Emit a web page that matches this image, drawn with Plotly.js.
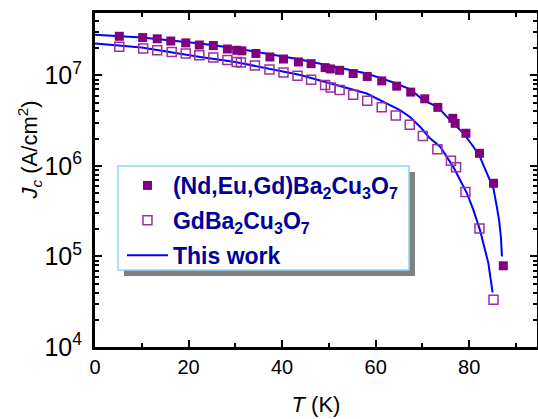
<!DOCTYPE html>
<html>
<head>
<meta charset="utf-8">
<script src="https://cdn.plot.ly/plotly-3.0.1.min.js"></script>
<style>
html,body{margin:0;padding:0;background:#fff;}
#chart{width:538px;height:419px;}
</style>
</head>
<body>
<div id="chart"></div>
<script>
// (Nd,Eu,Gd)Ba2Cu3O7 - filled squares
var T_neg = [5.2,10.2,13.3,16.2,19.4,22.3,25.3,28.3,30.3,31.4,34.4,37.4,40.3,43.5,46.2,49.2,50.3,52.3,55.2,58.2,61.3,64.5,67.5,70.5,73.3,76.5,77.0,79.3,82.2,85.2,87.3];
var Jc_neg = [2.71e7,2.62e7,2.54e7,2.40e7,2.29e7,2.17e7,2.14e7,1.96e7,1.90e7,1.87e7,1.75e7,1.60e7,1.52e7,1.41e7,1.35e7,1.22e7,1.18e7,1.14e7,1.05e7,9.75e6,8.71e6,7.62e6,6.55e6,5.52e6,4.44e6,3.36e6,2.96e6,2.30e6,1.38e6,6.44e5,7.89e4];
// GdBa2Cu3O7 - open squares
var T_gd = [5.2,10.3,13.3,16.4,19.4,22.3,25.3,28.3,30.3,31.2,34.2,37.3,40.3,43.3,46.2,49.2,50.4,52.3,55.2,58.2,61.3,64.3,67.3,70.1,73.2,76.1,77.2,79.2,82.2,85.2];
var Jc_gd = [2.07e7,1.99e7,1.90e7,1.82e7,1.75e7,1.67e7,1.58e7,1.48e7,1.41e7,1.39e7,1.29e7,1.16e7,1.08e7,9.91e6,8.95e6,7.82e6,7.38e6,6.89e6,6.11e6,5.25e6,4.44e6,3.62e6,2.85e6,2.14e6,1.53e6,1.14e6,9.68e5,5.16e5,2.04e5,3.33e4];
// This work - model curves
var T_fit1 = [0,10,22.5,30,43.9,52,58.1,64,67.4,70.2,73.3,75.9,78.8,80.9,82.3,83.8,85.2,85.9,86.4,86.8,87.0];
var Jc_fit1 = [2.82e7,2.63e7,2.25e7,2.0e7,1.50e7,1.23e7,1.05e7,8.3e6,7.01e6,5.35e6,4.47e6,3.21e6,2.29e6,1.63e6,1.26e6,8.3e5,5.6e5,3.55e5,2.5e5,1.6e5,1.0e5];
var T_fit2 = [0,10,22.5,30,43.9,52,58.1,65.2,67.4,69.5,71.5,73.8,76.6,78.0,79.5,80.9,82.3,84.1,85.0];
var Jc_fit2 = [2.25e7,2.04e7,1.60e7,1.41e7,1.01e7,7.76e6,6.31e6,4.14e6,3.45e6,2.71e6,2.05e6,1.63e6,9.77e5,7.1e5,5.01e5,3.27e5,1.97e5,8.45e4,4.01e4];

var names = ['(Nd,Eu,Gd)Ba<sub>2</sub>Cu<sub>3</sub>O<sub>7</sub>', 'GdBa<sub>2</sub>Cu<sub>3</sub>O<sub>7</sub>', 'This work'];

var traces = [
  {x:T_fit1, y:Jc_fit1, mode:'lines', line:{color:'#0000ff', width:2}, name:names[2], showlegend:false},
  {x:T_fit2, y:Jc_fit2, mode:'lines', line:{color:'#0000ff', width:2}, name:names[2], showlegend:false},
  {x:T_neg, y:Jc_neg, mode:'markers', name:names[0], legendgroup:'a', marker:{symbol:'square', size:9, color:'#800080'}},
  {x:T_gd, y:Jc_gd, mode:'markers', name:names[1], legendgroup:'b', marker:{symbol:'square-open', size:9, color:'#993399', line:{width:1.5}}},
  {x:[null], y:[null], mode:'lines', line:{color:'#0000ff', width:2}, name:names[2], legendgroup:'c'}
];

var layout = {
  width:538, height:419,
  margin:{l:95, r:1, t:13, b:72},
  paper_bgcolor:'#fff', plot_bgcolor:'#fff',
  font:{family:'Liberation Sans, Arial, sans-serif', color:'#000', size:20},
  showlegend:true,
  xaxis:{
    range:[0,94.5], dtick:20, tick0:0,
    showline:true, linecolor:'#000', linewidth:3, mirror:'allticks',
    ticks:'inside', ticklen:7, tickwidth:2, tickcolor:'#000',
    minor:{ticks:'inside', dtick:10, ticklen:4, tickwidth:2, tickcolor:'#000'},
    showgrid:false, zeroline:false,
    tickfont:{size:20},
    title:{text:'<i>T</i> (K)', font:{size:22}, standoff:20}
  },
  yaxis:{
    type:'log', range:[4,7.69], dtick:1,
    exponentformat:'power', showexponent:'all',
    showline:true, linecolor:'#000', linewidth:3, mirror:'allticks',
    ticks:'inside', ticklen:7, tickwidth:2, tickcolor:'#000',
    minor:{ticks:'inside', dtick:'D1', ticklen:4, tickwidth:2, tickcolor:'#000'},
    showgrid:false, zeroline:false,
    tickfont:{size:20}, ticklabelstandoff:6,
    title:{text:''}
  },
  annotations:[
    {xref:'paper', yref:'paper', x:-0.148, y:0.59, xanchor:'center', yanchor:'middle',
     text:'<i>J</i><sub><i>c</i></sub> (A/cm<sup>2</sup>)', textangle:-90, showarrow:false, font:{size:22}}
  ],
  shapes:[
    {type:'rect', xref:'paper', yref:'paper', layer:'above',
     x0:0.0656, x1:0.724, y0:0.2126, y1:0.524, fillcolor:'#808080', line:{width:0}},
    {type:'rect', xref:'paper', yref:'paper', layer:'above',
     x0:0.052, x1:0.7104, y0:0.2305, y1:0.5419, fillcolor:'#ffffff', line:{color:'#88d8f8', width:1.5}}
  ],
  legend:{
    x:0.061, y:0.548, xanchor:'left', yanchor:'top',
    bgcolor:'rgba(0,0,0,0)', borderwidth:0,
    font:{family:'Liberation Sans, Arial, sans-serif', size:23, color:'#000099', weight:'bold'},
    itemwidth:41, tracegroupgap:2
  }
};

Plotly.newPlot('chart', traces, layout, {displayModeBar:false, staticPlot:true});
</script>
</body>
</html>
